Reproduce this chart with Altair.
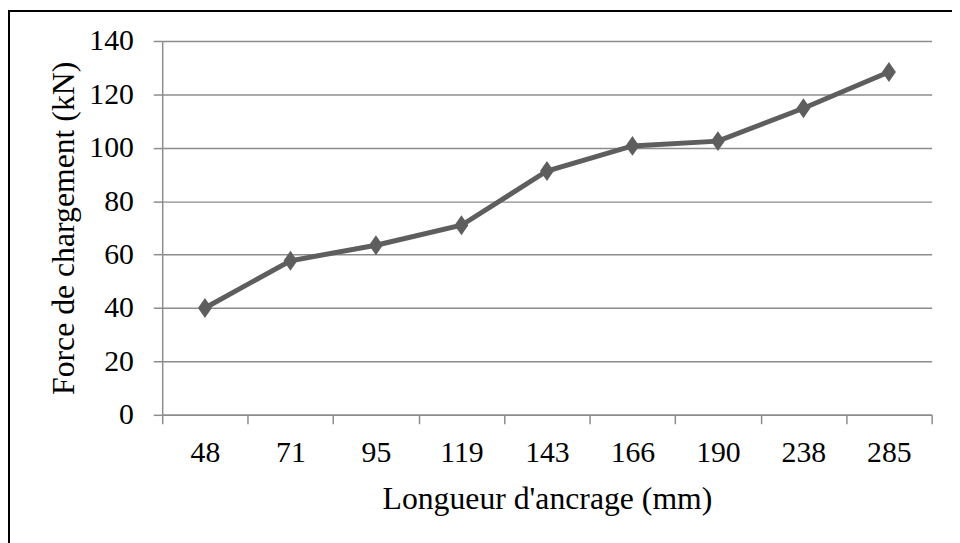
import altair as alt
import pandas as pd

categories = ["48", "71", "95", "119", "143", "166", "190", "238", "285"]
force_kN = [40.0, 57.7, 63.5, 71.0, 91.3, 100.7, 102.5, 114.8, 128.4]
y_ticks = [0, 20, 40, 60, 80, 100, 120, 140]

df = pd.DataFrame({
    "idx": list(range(len(categories))),
    "cat": categories,
    "force": force_kN,
})

FONT = "Liberation Serif"
GRID = "#8c8c8c"
LINE = "#5e5e5e"

n = len(categories)
label_expr = "[" + ",".join("'" + c + "'" for c in categories) + "][datum.value]"

x_dom = alt.Scale(domain=[-0.5, n - 0.5], nice=False, zero=False)
y_scale = alt.Scale(domain=[0, 140], nice=False)

y_axis = alt.Axis(
    values=y_ticks,
    title="Force de chargement (kN)",
    titleFont=FONT, titleFontSize=32, titleFontWeight="normal", titleColor="black",
    titlePadding=8,
    labelFont=FONT, labelFontSize=30, labelColor="black", labelPadding=20,
    tickSize=9, tickColor=GRID, tickWidth=1.5,
    domainColor=GRID, domainWidth=1.5,
    grid=True, gridColor=GRID, gridWidth=1.5,
)
y_enc = alt.Y("force:Q", scale=y_scale, axis=y_axis)

# axis carrying the category labels (centered on each category)
labels_layer = alt.Chart(df).mark_line(color=LINE, strokeWidth=5).encode(
    x=alt.X(
        "idx:Q",
        scale=x_dom,
        axis=alt.Axis(
            orient="bottom",
            values=list(range(n)),
            labelExpr=label_expr,
            ticks=False, domain=False, grid=False,
            labelFont=FONT, labelFontSize=30, labelColor="black", labelPadding=23,
            title="Longueur d'ancrage (mm)",
            titleFont=FONT, titleFontSize=32, titleFontWeight="normal", titleColor="black",
            titlePadding=16,
        ),
    ),
    y=y_enc,
)

# axis carrying the category boundary ticks
bounds = [i - 0.5 for i in range(n + 1)]
ticks_layer = alt.Chart(df).mark_point(
    shape="M0,-1L0.7,0L0,1L-0.7,0Z", filled=True, color=LINE, opacity=1, size=400
).encode(
    x=alt.X(
        "idx:Q",
        scale=x_dom,
        axis=alt.Axis(
            orient="bottom",
            values=bounds,
            labels=False, grid=False, title=None,
            tickSize=9, tickColor=GRID, tickWidth=1.5,
            domainColor=GRID, domainWidth=1.5,
        ),
    ),
    y=y_enc,
)

border = alt.Chart(df).mark_rect(
    fill=None, stroke="black", strokeWidth=1.5
).encode(
    x=alt.value(-154.5),
    x2=alt.value(900),
    y=alt.value(-30.5),
    y2=alt.value(600),
)

chart = alt.layer(border, labels_layer, ticks_layer).resolve_axis(x="independent").properties(
    width=776,
    height=377,
    autosize=alt.AutoSizeParams(type="none"),
    padding={"left": 155.5, "top": 31, "right": 20.5, "bottom": 127},
).configure_view(stroke=None)

chart.save("out.html", embed_options={"renderer": "svg", "actions": False})
